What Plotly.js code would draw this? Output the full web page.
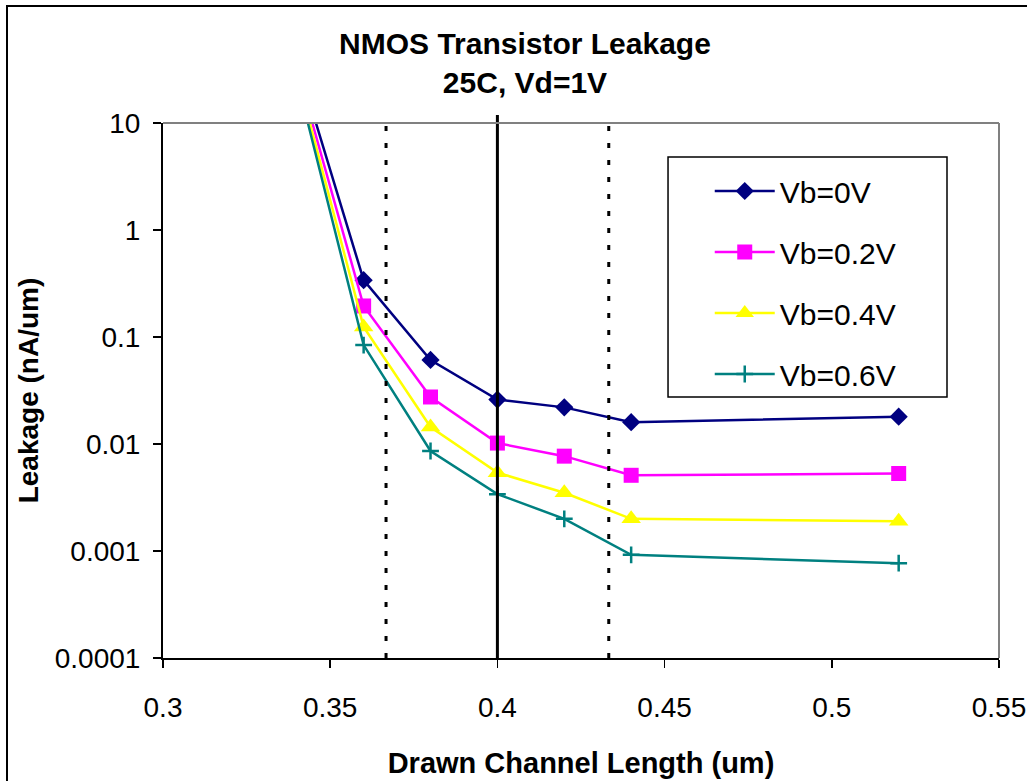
<!DOCTYPE html>
<html>
<head>
<meta charset="utf-8">
<script src="https://cdn.plot.ly/plotly-3.0.1.min.js"></script>
<style>html,body{margin:0;padding:0;background:#fff;}#chart{width:1027px;height:781px;}</style>
</head>
<body>
<div id="chart"></div>
<script>
// Data
const channelLength = [0.34, 0.36, 0.38, 0.40, 0.42, 0.44, 0.52];
const vb0V  = [39, 0.34, 0.061, 0.026, 0.022, 0.016, 0.018];
const vb02V = [33, 0.195, 0.0275, 0.0102, 0.0077, 0.0051, 0.0053];
const vb04V = [29, 0.124, 0.0144, 0.0054, 0.0035, 0.0020, 0.0019];
const vb06V = [26, 0.084, 0.0086, 0.0034, 0.0020, 0.00092, 0.00077];
const seriesNames = ['Vb=0V', 'Vb=0.2V', 'Vb=0.4V', 'Vb=0.6V'];
const yTickVals = [0.0001, 0.001, 0.01, 0.1, 1, 10];
const yTickText = ['0.0001', '0.001', '0.01', '0.1', '1', '10'];
const guideX = [0.3667, 0.4, 0.4333];
const guideSolid = [false, true, false];

const FONT = 'Arial, "Liberation Sans", sans-serif';
const colors = ['#000080', '#FF00FF', '#FFFF00', '#008080'];
const symbols = ['diamond', 'square', 'triangle-up', 'cross-thin'];
const sizes = [14, 15, 17, 12];
const ys = [vb0V, vb02V, vb04V, vb06V];

const traces = ys.map((y, i) => ({
  x: channelLength, y: y, name: seriesNames[i], type: 'scatter', mode: 'lines+markers',
  legendgroup: 'g' + i,
  line: {color: colors[i], width: 2.5},
  marker: {symbol: symbols[i], size: sizes[i], color: colors[i],
           line: {color: colors[i], width: i === 3 ? 2.5 : 0}}
}));

const shapes = guideX.map((gx, i) => ({
  type: 'line', xref: 'x', yref: 'paper', x0: gx, x1: gx, y0: 0, y1: 1.015,
  line: {color: '#000', width: 3, dash: guideSolid[i] ? 'solid' : '5px,12px'}
}));
// plot frame top & right (gray)
shapes.push({type: 'line', xref: 'paper', yref: 'paper', x0: 0, x1: 1, y0: 1, y1: 1, line: {color: '#808080', width: 2}});
shapes.push({type: 'line', xref: 'paper', yref: 'paper', x0: 1, x1: 1, y0: 0, y1: 1, line: {color: '#808080', width: 2}});
// legend frame
shapes.push({type: 'rect', xref: 'paper', yref: 'paper', x0: 0.6041, x1: 0.9378, y0: 0.4879, y1: 0.9364,
             line: {color: '#000', width: 1.5}, fillcolor: '#fff', layer: 'above'});
// outer chart border
shapes.push({type: 'rect', xref: 'paper', yref: 'paper', x0: -0.1866, x1: 1.2, y0: -0.4, y1: 1.2187, line: {color: '#000', width: 2}, fillcolor: 'rgba(0,0,0,0)'});

const layout = {
  width: 1027, height: 781,
  margin: {l: 163, r: 28, t: 123, b: 123},
  paper_bgcolor: '#fff', plot_bgcolor: '#fff',
  font: {family: FONT, color: '#000', size: 28},
  title: {text: '<b>NMOS Transistor Leakage</b><br><b>25C, Vd=1V</b>',
          font: {family: FONT, size: 30, color: '#000'},
          xref: 'paper', x: 0.433, xanchor: 'center',
          yref: 'container', y: 0.931, yanchor: 'top'},
  xaxis: {range: [0.3, 0.55], dtick: 0.05, tick0: 0.3, showgrid: false, zeroline: false,
          showline: true, linecolor: '#000', linewidth: 2,
          ticks: 'outside', ticklen: 8, tickwidth: 1.5, tickcolor: '#000',
          ticklabelstandoff: 15,
          tickfont: {family: FONT, size: 28, color: '#000'},
          title: {text: '<b>Drawn Channel Length (um)</b>', font: {family: FONT, size: 29, color: '#000'}, standoff: 31}},
  yaxis: {type: 'log', range: [-4, 1], tickvals: yTickVals, ticktext: yTickText,
          showgrid: false, zeroline: false,
          showline: true, linecolor: '#000', linewidth: 2,
          ticks: 'outside', ticklen: 8, tickwidth: 1.5, tickcolor: '#000',
          ticklabelstandoff: 7,
          tickfont: {family: FONT, size: 28, color: '#000'},
          title: {text: '<b>Leakage (nA/um)</b>', font: {family: FONT, size: 28, color: '#000'}, standoff: 8}},
  legend: {x: 0.654, y: 0.9215, xanchor: 'left', yanchor: 'top',
           bgcolor: 'rgba(0,0,0,0)', borderwidth: 0,
           font: {family: FONT, size: 30, color: '#000'},
           traceorder: 'grouped', tracegroupgap: 19, itemwidth: 60},
  shapes: shapes,
  showlegend: true
};

Plotly.newPlot('chart', traces, layout, {displayModeBar: false, staticPlot: true});
</script>
</body>
</html>
